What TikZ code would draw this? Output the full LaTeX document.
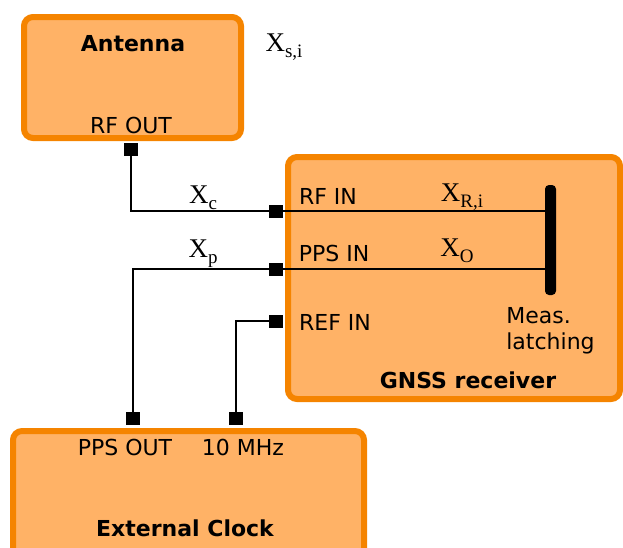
\documentclass[tikz,border=0pt]{standalone}
\usepackage{fontspec}
\setmainfont{DejaVu Sans}
\newfontfamily\varfont{Liberation Serif}
\usepackage{tikz}
\usetikzlibrary{positioning}
\definecolor{boxorange}{RGB}{245,132,0}
\definecolor{boxfill}{RGB}{255,178,102}
\newcommand{\varsub}[1]{X\raisebox{-6pt}{\fontsize{19}{21}\selectfont #1}}

\begin{document}
\begin{tikzpicture}[x=1pt, y=-1pt,
  block/.style={draw=boxorange, line width=6pt, rounded corners=9pt, fill=boxfill, inner sep=0pt},
  port/.style={fill=black, minimum width=14pt, minimum height=13pt, inner sep=0pt},
  lbl/.style={font=\fontsize{22}{26}\selectfont, inner sep=0pt},
  title/.style={font=\fontsize{22}{26}\selectfont\bfseries, inner sep=0pt},
  var/.style={font=\fontsize{27}{30}\varfont, inner sep=0pt},
  wire/.style={draw, line width=1.4pt}
]
\useasboundingbox (0,0) rectangle (623,547);
\node[block, minimum width=217pt, minimum height=121pt] (antenna) at (132.5,77.5) {};
\node[block, minimum width=332pt, minimum height=242pt] (gnss) at (454,278) {};
\node[block, minimum width=351pt, minimum height=140pt] (clock) at (188.5,501) {};

\node[title] (antname) at (133,44) {Antenna};
\node[lbl] (rfoutlbl) at (131,125) {RF OUT};
\node[var] (xsi) at (284,47) {\varsub{s,i}};

\node[port] (rfout) at (131,149.5) {};
\node[port] (rfin) at (276,211) {};
\node[port] (ppsin) at (276,269) {};
\node[port] (refin) at (276,321) {};
\node[port] (ppsout) at (133,418.5) {};
\node[port] (tenmhz) at (236,418.5) {};

\node[fill=black, rounded corners=4pt, minimum width=11pt, minimum height=110pt, inner sep=0pt] (latch) at (550.5,240) {};

\node[lbl] (rfinlbl) at (328,196) {RF IN};
\node[lbl] (ppsinlbl) at (334,253) {PPS IN};
\node[lbl] (refinlbl) at (335,322) {REF IN};
\node[var] (xri) at (462,197) {\varsub{R,i}};
\node[var] (xo) at (457,251) {\varsub{O}};
\node[lbl, align=left, below=12pt of latch.south, anchor=north] (latchlbl) {Meas.\\latching};
\node[title] (gnssname) at (468,380) {GNSS receiver};

\node[var] (xc) at (203,198) {\varsub{c}};
\node[var] (xp) at (203,254) {\varsub{p}};

\node[lbl] (ppsoutlbl) at (125,447) {PPS OUT};
\node[lbl] (tenmhzlbl) at (243,447) {10 MHz};
\node[title] (clockname) at (185,528) {External Clock};

\draw[wire] (rfout.south) |- (rfin.west);
\draw[wire] (ppsin.west) -| (ppsout.north);
\draw[wire] (refin.west) -| (tenmhz.north);
\draw[wire] (rfin.east) -- (rfin.east -| latch.west);
\draw[wire] (ppsin.east) -- (ppsin.east -| latch.west);
\end{tikzpicture}
\end{document}
